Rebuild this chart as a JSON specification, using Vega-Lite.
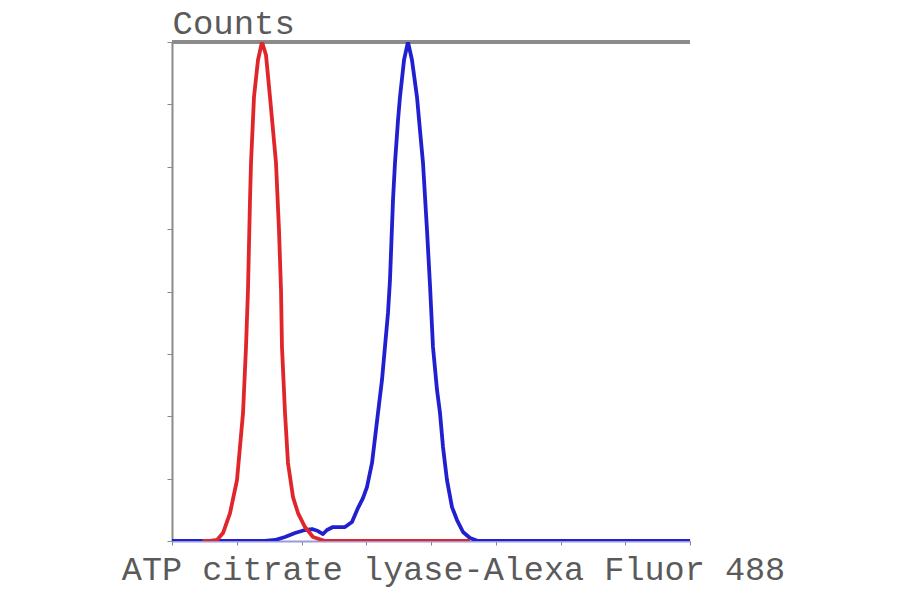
{
  "$schema": "https://vega.github.io/schema/vega-lite/v6.json",
  "width": 518,
  "height": 499,
  "autosize": "none",
  "padding": {"left": 172, "top": 42, "right": 210, "bottom": 53},
  "background": "white",
  "config": {"view": {"stroke": null}},
  "datasets": {
    "hist": [
      {"series": "control", "x": 60, "y": 0},
      {"series": "control", "x": 75.1, "y": 0},
      {"series": "control", "x": 89.0, "y": 0.4},
      {"series": "control", "x": 100.8, "y": 3.2},
      {"series": "control", "x": 114.7, "y": 11.2},
      {"series": "control", "x": 128.5, "y": 24.4},
      {"series": "control", "x": 140.4, "y": 51.3},
      {"series": "control", "x": 146.3, "y": 77.8},
      {"series": "control", "x": 150.2, "y": 100.6},
      {"series": "control", "x": 154.2, "y": 136.7},
      {"series": "control", "x": 156.2, "y": 151.5},
      {"series": "control", "x": 162.1, "y": 178.0},
      {"series": "control", "x": 170.0, "y": 192.8},
      {"series": "control", "x": 177.9, "y": 200},
      {"series": "control", "x": 185.8, "y": 194.8},
      {"series": "control", "x": 193.7, "y": 178.0},
      {"series": "control", "x": 199.7, "y": 164.7},
      {"series": "control", "x": 205.6, "y": 151.5},
      {"series": "control", "x": 211.5, "y": 124.6},
      {"series": "control", "x": 215.5, "y": 100.6},
      {"series": "control", "x": 217.4, "y": 77.8},
      {"series": "control", "x": 223.4, "y": 51.3},
      {"series": "control", "x": 229.3, "y": 31.3},
      {"series": "control", "x": 239.2, "y": 17.6},
      {"series": "control", "x": 249.1, "y": 11.2},
      {"series": "control", "x": 262.9, "y": 5.6},
      {"series": "control", "x": 278.7, "y": 1.6},
      {"series": "control", "x": 302.5, "y": 0},
      {"series": "control", "x": 589.1, "y": 0},
      {"series": "ACLY", "x": 0, "y": 0},
      {"series": "ACLY", "x": 183.8, "y": 0},
      {"series": "ACLY", "x": 203.6, "y": 0.4},
      {"series": "ACLY", "x": 223.4, "y": 1.6},
      {"series": "ACLY", "x": 243.2, "y": 3.2},
      {"series": "ACLY", "x": 262.9, "y": 4.4},
      {"series": "ACLY", "x": 276.8, "y": 4.8},
      {"series": "ACLY", "x": 288.6, "y": 4.0},
      {"series": "ACLY", "x": 298.5, "y": 2.8},
      {"series": "ACLY", "x": 306.4, "y": 4.4},
      {"series": "ACLY", "x": 318.2, "y": 5.6},
      {"series": "ACLY", "x": 342.0, "y": 5.6},
      {"series": "ACLY", "x": 355.8, "y": 7.6},
      {"series": "ACLY", "x": 367.6, "y": 13.2},
      {"series": "ACLY", "x": 377.5, "y": 17.2},
      {"series": "ACLY", "x": 385.4, "y": 21.6},
      {"series": "ACLY", "x": 395.4, "y": 31.3},
      {"series": "ACLY", "x": 403.2, "y": 44.5},
      {"series": "ACLY", "x": 407.2, "y": 51.3},
      {"series": "ACLY", "x": 415.1, "y": 64.5},
      {"series": "ACLY", "x": 421.0, "y": 77.8},
      {"series": "ACLY", "x": 427.0, "y": 91.4},
      {"series": "ACLY", "x": 430.9, "y": 104.6},
      {"series": "ACLY", "x": 436.9, "y": 136.7},
      {"series": "ACLY", "x": 440.8, "y": 151.5},
      {"series": "ACLY", "x": 446.8, "y": 168.7},
      {"series": "ACLY", "x": 450.7, "y": 178.0},
      {"series": "ACLY", "x": 458.7, "y": 192.8},
      {"series": "ACLY", "x": 466.5, "y": 200},
      {"series": "ACLY", "x": 474.4, "y": 192.8},
      {"series": "ACLY", "x": 484.3, "y": 178.0},
      {"series": "ACLY", "x": 490.2, "y": 164.7},
      {"series": "ACLY", "x": 496.2, "y": 151.5},
      {"series": "ACLY", "x": 504.1, "y": 124.6},
      {"series": "ACLY", "x": 510.0, "y": 102.6},
      {"series": "ACLY", "x": 515.9, "y": 77.8},
      {"series": "ACLY", "x": 523.9, "y": 60.5},
      {"series": "ACLY", "x": 529.8, "y": 51.3},
      {"series": "ACLY", "x": 535.7, "y": 37.7},
      {"series": "ACLY", "x": 543.6, "y": 24.4},
      {"series": "ACLY", "x": 553.5, "y": 13.6},
      {"series": "ACLY", "x": 563.4, "y": 8.4},
      {"series": "ACLY", "x": 575.3, "y": 3.6},
      {"series": "ACLY", "x": 589.1, "y": 1.2},
      {"series": "ACLY", "x": 604.9, "y": 0},
      {"series": "ACLY", "x": 1024, "y": 0}
    ]
  },
  "data": {"name": "hist"},
  "layer": [
    {
      "mark": {"type": "rule", "color": "#8a8a8a", "strokeWidth": 2.5},
      "encoding": {
        "y": {"datum": 200, "type": "quantitative", "scale": {"domain": [0, 200]}}
      }
    },
    {
      "transform": [{"filter": "datum.series == 'ACLY'"}],
      "mark": {"type": "line", "color": "#2020d0", "strokeWidth": 3.8, "clip": true, "strokeJoin": "round"},
      "encoding": {
        "x": {
          "field": "x", "type": "quantitative",
          "scale": {"domain": [0, 1024], "nice": false, "zero": false},
          "axis": {
            "values": [0, 128, 256, 384, 512, 640, 768, 896, 1024],
            "labels": false, "grid": false, "tickSize": 4, "tickColor": "#8080b0",
            "domainColor": "#9a9ad8", "domainWidth": 2,
            "title": "ATP citrate lyase-Alexa Fluor 488",
            "titleFont": "Liberation Mono", "titleFontSize": 33.5, "titleFontWeight": "normal",
            "titleColor": "#5a5a5a", "titleX": 281, "titleAlign": "center",
            "titleBaseline": "alphabetic", "titleY": 38
          }
        },
        "y": {
          "field": "y", "type": "quantitative",
          "scale": {"domain": [0, 200], "nice": false},
          "axis": {
            "values": [0, 25, 50, 75, 100, 125, 150, 175, 200],
            "labels": false, "grid": false, "tickSize": 5, "tickColor": "#8a8a8a",
            "domainColor": "#8a8a8a", "domainWidth": 2,
            "title": "Counts", "titleAngle": 0, "titleAlign": "left", "titleBaseline": "alphabetic",
            "titleX": 0, "titleY": -9,
            "titleFont": "Liberation Mono", "titleFontSize": 34, "titleFontWeight": "normal",
            "titleColor": "#5a5a5a"
          }
        },
        "order": {"field": "x", "type": "quantitative"}
      }
    },
    {
      "transform": [{"filter": "datum.series == 'control'"}],
      "mark": {"type": "line", "color": "#e0262a", "strokeWidth": 3.8, "clip": true, "strokeJoin": "round"},
      "encoding": {
        "x": {"field": "x", "type": "quantitative"},
        "y": {"field": "y", "type": "quantitative"},
        "order": {"field": "x", "type": "quantitative"}
      }
    }
  ]
}
